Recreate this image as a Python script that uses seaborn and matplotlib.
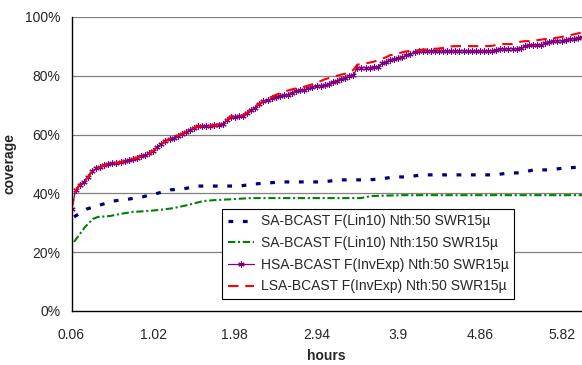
import numpy as np
import pandas as pd
import matplotlib
matplotlib.use("Agg")
import matplotlib.pyplot as plt
import seaborn as sns
from matplotlib.ticker import PercentFormatter, FixedLocator

# x grid for the two dense series: 0.06 h .. 6.06 h, step 0.048 h
hours_dense = np.round(0.06 + 0.048 * np.arange(126), 3)

hsa_invexp = [
    34.6, 41.0, 43.0, 43.8, 45.5, 47.5, 48.5, 49.0, 49.6, 50.1,
    50.3, 50.4, 50.6, 51.0, 51.2, 51.7, 52.2, 52.6, 53.0, 53.6,
    54.5, 55.9, 56.8, 57.8, 58.5, 59.0, 59.6, 60.2, 60.9, 61.6,
    62.3, 62.8, 62.9, 62.9, 62.9, 63.1, 63.4, 63.6, 64.8, 66.0,
    66.1, 66.2, 66.3, 67.2, 68.3, 69.2, 70.4, 71.3, 71.6, 72.3,
    72.8, 73.1, 73.3, 73.6, 74.2, 74.8, 75.0, 75.3, 75.8, 76.3,
    76.5, 76.7, 76.8, 77.2, 78.0, 78.4, 78.9, 79.3, 79.8, 80.2,
    82.8, 82.8, 82.8, 82.8, 82.9, 83.0, 84.2, 84.8, 85.4, 85.6,
    85.9, 86.3, 87.0, 87.4, 88.0, 88.4, 88.5, 88.5, 88.5, 88.5,
    88.5, 88.5, 88.5, 88.5, 88.5, 88.5, 88.5, 88.5, 88.5, 88.5,
    88.5, 88.5, 88.5, 88.5, 88.8, 89.2, 89.2, 89.2, 89.2, 89.2,
    89.4, 90.0, 90.4, 90.4, 90.5, 90.5, 91.0, 91.5, 91.9, 91.9,
    91.9, 92.2, 92.5, 92.6, 92.9, 93.2,
]

lsa_invexp = [
    34.6, 41.0, 43.0, 43.8, 45.5, 47.5, 48.5, 49.0, 49.6, 50.1,
    50.3, 50.4, 50.6, 51.0, 51.2, 51.7, 52.2, 52.6, 53.0, 53.6,
    54.5, 55.9, 56.8, 57.8, 58.5, 59.0, 59.6, 60.2, 60.9, 61.6,
    62.3, 62.8, 62.9, 62.9, 63.0, 63.2, 63.5, 63.8, 65.0, 66.2,
    66.3, 66.4, 66.6, 67.5, 68.6, 69.6, 70.6, 71.3, 72.1, 72.8,
    73.5, 74.0, 74.5, 75.0, 75.4, 75.7, 76.0, 76.3, 76.7, 77.1,
    77.6, 78.2, 78.8, 79.2, 79.6, 80.0, 80.4, 80.7, 81.0, 82.0,
    83.8, 84.0, 84.2, 84.5, 84.8, 85.3, 85.8, 86.3, 87.0, 87.2,
    87.6, 88.0, 88.3, 88.5, 88.6, 88.7, 88.9, 89.0, 89.1, 89.2,
    89.3, 89.5, 89.8, 90.0, 90.1, 90.1, 90.1, 90.1, 90.1, 90.1,
    90.1, 90.1, 90.1, 90.2, 90.5, 90.8, 90.8, 90.8, 90.8, 91.2,
    91.6, 91.8, 91.8, 91.9, 92.1, 92.3, 92.5, 92.6, 92.8, 93.0,
    93.2, 93.5, 93.8, 94.1, 94.4, 94.8,
]

sa50_hours = [0.09, 0.24, 0.39, 0.55, 0.72, 0.89, 1.04, 1.22, 1.37, 1.54,
              2.04, 2.20, 2.36, 2.51, 3.02, 3.20, 3.54, 3.69, 3.85, 4.01,
              4.17, 5.03, 5.19, 5.34, 5.49, 5.66, 5.85, 6.06]
sa50_lin10 = [32.0, 34.7, 36.0, 37.4, 38.0, 38.8, 39.8, 41.2, 41.5, 42.5,
              42.5, 43.2, 43.5, 43.9, 43.9, 44.6, 44.6, 44.9, 45.6, 45.6,
              46.3, 46.3, 46.9, 47.0, 48.0, 48.0, 48.6, 49.0]

sa150_hours = [0.09, 0.22, 0.31, 0.37, 0.51, 0.63, 0.78, 0.95, 1.10, 1.26,
               1.42, 1.61, 1.73, 1.93, 2.16, 3.46, 3.58, 3.93, 6.06]
sa150_lin10 = [23.5, 28.6, 31.3, 32.0, 32.3, 33.0, 33.7, 34.0, 34.4, 35.0,
               36.0, 37.4, 37.7, 38.0, 38.4, 38.4, 39.1, 39.4, 39.4]

labels = [
    "SA-BCAST F(Lin10) Nth:50 SWR15µ",
    "SA-BCAST F(Lin10) Nth:150 SWR15µ",
    "HSA-BCAST F(InvExp) Nth:50 SWR15µ",
    "LSA-BCAST F(InvExp) Nth:50 SWR15µ",
]
x_ticks = [0.06, 1.02, 1.98, 2.94, 3.9, 4.86, 5.82]
x_tick_labels = ["0.06", "1.02", "1.98", "2.94", "3.9", "4.86", "5.82"]

sns.set_style("white")
plt.rcParams["font.family"] = ["Liberation Sans", "DejaVu Sans"]
plt.rcParams["font.size"] = 10

fig = plt.figure(figsize=(5.82, 3.65), dpi=100)
ax = fig.add_axes([71.5 / 582, 54 / 365, 510.5 / 582, 294 / 365])

for y in [20, 40, 60, 80, 100]:
    ax.axhline(y, color="#808080", lw=0.9, zorder=0)

sns.lineplot(x=sa50_hours, y=sa50_lin10, ax=ax, color="#000080", lw=2.3,
             linestyle=(0, (1.5, 3.0)), label=labels[0])
sns.lineplot(x=sa150_hours, y=sa150_lin10, ax=ax, color="#008000", lw=1.5,
             linestyle=(0, (3.5, 1.3, 1.0, 1.3)), label=labels[1])
sns.lineplot(x=hours_dense, y=hsa_invexp, ax=ax, color="#800080", lw=0.9,
             marker=(6, 2, 0), markersize=4.5, markeredgewidth=0.8,
             markeredgecolor="#800080", label=labels[2])
sns.lineplot(x=hours_dense, y=lsa_invexp, ax=ax, color="#FF0000", lw=1.5,
             linestyle=(0, (5, 3.3)), label=labels[3])

ax.set_xlim(0.06, 6.06)
ax.set_ylim(0, 100)
ax.set_yticks([0, 20, 40, 60, 80, 100])
ax.yaxis.set_major_formatter(PercentFormatter(xmax=100, decimals=0))
ax.set_xticks(x_ticks)
ax.set_xticklabels(x_tick_labels)
ax.xaxis.set_minor_locator(FixedLocator([0.54, 1.5, 2.46, 3.42, 4.38, 5.34]))
ax.tick_params(axis="both", which="both", direction="out", length=4,
               width=0.8, color="black", labelsize=10, pad=4)
ax.tick_params(axis="x", pad=8)

for side in ["top", "right"]:
    ax.spines[side].set_visible(False)
for side in ["left", "bottom"]:
    ax.spines[side].set_color("black")
    ax.spines[side].set_linewidth(1.0)

ax.set_xlabel("hours", fontweight="bold", fontsize=10, labelpad=5)
ax.set_ylabel("coverage", fontweight="bold", fontsize=10, labelpad=6)

leg = ax.legend(loc="lower left", bbox_to_anchor=(0.295, 0.041), fontsize=10,
                frameon=True, fancybox=False, framealpha=1, edgecolor="black",
                handlelength=1.9, labelspacing=0.55, borderpad=0.4,
                handletextpad=0.5, borderaxespad=0)
leg.get_frame().set_linewidth(0.8)

fig.savefig("out.png", dpi=100)
